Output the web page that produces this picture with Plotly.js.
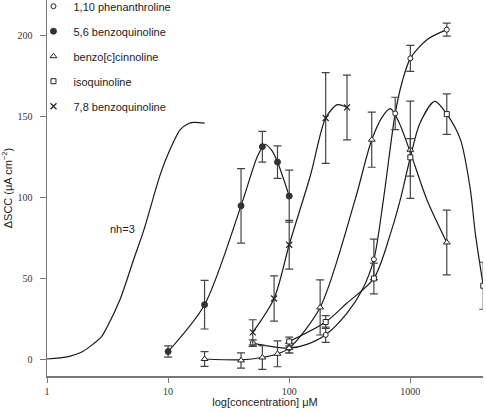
<!DOCTYPE html>
<html>
<head>
<meta charset="utf-8">
<script src="https://cdn.plot.ly/plotly-3.0.1.min.js"></script>
<style>html,body{margin:0;padding:0;background:#fff;}#chart{width:486px;height:411px;}</style>
</head>
<body>
<div id="chart"></div>
<script>
// ---- Data ----
var seriesNames = ["1,10 phenanthroline", "5,6 benzoquinoline", "benzo[c]cinnoline", "isoquinoline", "7,8 benzoquinoline"];

// 1,10 phenanthroline (open circles)
var phenX = [50, 100, 200, 500, 750, 1000, 2000];
var phenY = [10.3, 7.2, 15.4, 62, 152, 186, 203.7];
var phenErr = [2, 3, 4.7, 12.5, 10, 8, 4];
var phenCurveX = [50, 70, 100, 140, 200, 300, 400, 500, 600, 750, 860, 1000, 1370, 2000];
var phenCurveY = [10.3, 8.3, 7.2, 9.5, 15.4, 28.8, 43, 62, 99, 152, 172, 186, 197.5, 203.7];

// 5,6 benzoquinoline (filled circles)
var b56X = [10, 20, 40, 60, 80, 100];
var b56Y = [5.1, 34, 95, 131.5, 122, 101];
var b56Err = [3.5, 15, 23, 9.5, 10, 16];
var b56CurveX = [10, 20, 40, 55, 63, 72, 80, 100];
var b56CurveY = [5.1, 34, 95, 126, 133, 129, 122, 101];

// benzo[c]cinnoline (open triangles)
var cinX = [20, 40, 60, 80, 100, 180, 480, 1000, 2000];
var cinY = [0.5, -0.4, 1.4, 3.7, 7.2, 32.3, 135.8, 129.6, 72.4];
var cinErr = [4.5, 4.7, 7.3, 8, 3, 17, 17, 30, 20];
var cinCurveX = [20, 40, 60, 80, 100, 180, 350, 480, 600, 684, 800, 1000, 1370, 2000];
var cinCurveY = [0.5, 0, 1.4, 3.7, 7.2, 32.3, 98.8, 135.8, 151, 155, 147, 128, 98.8, 72.4];

// isoquinoline (open squares)
var isoX = [100, 200, 500, 1000, 2000, 4000];
var isoY = [11.3, 23.3, 50.2, 124.9, 151.6, 45.7];
var isoErr = [2.7, 4, 9.5, 11.6, 12.5, 14.5];
var isoCurveX = [100, 200, 300, 500, 700, 826, 1000, 1200, 1590, 2000, 2590, 3130, 3440, 4000];
var isoCurveY = [11.3, 23.3, 35, 50.2, 80, 98.8, 124.9, 146, 159.4, 151.6, 136, 105, 78, 45.7];

// 7,8 benzoquinoline (crosses)
var b78X = [50, 75, 100, 200, 300];
var b78Y = [16.9, 37.8, 71, 149.2, 155.7];
var b78Err = [7.8, 14, 15, 28, 20];
var b78CurveX = [50, 75, 100, 150, 200, 250, 300];
var b78CurveY = [16.9, 37.8, 71, 114, 149.2, 157.4, 155.7];

// Hill curve nh=3 (no markers)
var nhCurveX = [1, 1.5, 1.9, 2.3, 2.8, 3.1, 4, 5.2, 6.3, 8.5, 9.8, 12.6, 14.5, 16.2, 20];
var nhCurveY = [0.5, 2, 4.5, 8.6, 14, 19.5, 37, 62, 80, 113, 125.5, 142, 145.5, 146.5, 146];
var nhLabel = "nh=3";

var xTickVals = [1, 10, 100, 1000];
var xTickText = ["1", "10", "100", "1000"];
var yTickVals = [0, 50, 100, 150, 200];
var yTickText = ["0", "50", "100", "150", "200"];

// ---- Styling ----
var lineStyle = {color: "#1a1a1a", width: 1.2, shape: "spline", smoothing: 0.8};
function curve(x, y) {
  return {x: x, y: y, type: "scatter", mode: "lines", line: lineStyle, showlegend: false, hoverinfo: "skip"};
}
function pts(name, x, y, err, marker, gi) {
  return {
    x: x, y: y, name: name, type: "scatter", mode: "markers",
    legendgroup: "g" + gi,
    marker: marker,
    error_y: {type: "data", array: err, visible: true, color: "#444", thickness: 1.2, width: 4}
  };
}
var openLine = {color: "#222", width: 1};

var traces = [
  curve(nhCurveX, nhCurveY),
  curve(phenCurveX, phenCurveY),
  curve(b56CurveX, b56CurveY),
  curve(cinCurveX, cinCurveY),
  curve(isoCurveX, isoCurveY),
  curve(b78CurveX, b78CurveY),
  pts(seriesNames[0], phenX, phenY, phenErr, {symbol: "circle", size: 5, color: "#fff", line: openLine}, 0),
  pts(seriesNames[1], b56X, b56Y, b56Err, {symbol: "circle", size: 6, color: "#333", line: {color: "#333", width: 1}}, 1),
  pts(seriesNames[2], cinX, cinY, cinErr, {symbol: "triangle-up", size: 6, color: "#fff", line: openLine}, 2),
  pts(seriesNames[3], isoX, isoY, isoErr, {symbol: "square", size: 5, color: "#fff", line: openLine}, 3),
  pts(seriesNames[4], b78X, b78Y, b78Err, {symbol: "x-thin-open", size: 6, color: "#222", line: {color: "#222", width: 1.2}}, 4)
];

var layout = {
  width: 486, height: 411,
  margin: {l: 47, r: 3, t: 0, b: 35, autoexpand: false},
  paper_bgcolor: "#fff", plot_bgcolor: "#fff",
  font: {family: "Liberation Sans, Arial, sans-serif", size: 11, color: "#222"},
  xaxis: {
    type: "log", range: [0, 3.6],
    tickvals: xTickVals, ticktext: xTickText,
    showgrid: false, zeroline: false,
    showline: true, linecolor: "#777", linewidth: 1.5,
    ticks: "outside", ticklen: 5, tickcolor: "#777", tickwidth: 1,
    tickfont: {family: "Liberation Serif, Times New Roman, serif", size: 10, color: "#333"},
    title: {text: "log[concentration] μM", font: {size: 11, color: "#222"}, standoff: 3}
  },
  yaxis: {
    range: [-10, 222],
    tickvals: yTickVals, ticktext: yTickText,
    showgrid: false, zeroline: false,
    showline: true, linecolor: "#777", linewidth: 1.5,
    ticks: "outside", ticklen: 6, tickcolor: "#777", tickwidth: 1,
    ticklabelstandoff: 5,
    tickfont: {family: "Liberation Serif, Times New Roman, serif", size: 10, color: "#333"},
    title: {text: "ΔSCC (μA cm<sup>−2</sup>)", font: {size: 11, color: "#222"}, standoff: 8}
  },
  legend: {
    x: -0.031, xanchor: "left", y: 1.022, yanchor: "top",
    bgcolor: "rgba(0,0,0,0)", borderwidth: 0,
    traceorder: "grouped", tracegroupgap: 6,
    font: {size: 11, color: "#222"}
  },
  annotations: [
    {x: Math.log10(4.2), y: 81, xref: "x", yref: "y", text: nhLabel, showarrow: false,
     font: {size: 11, color: "#222"}}
  ]
};

Plotly.newPlot("chart", traces, layout, {displayModeBar: false, staticPlot: true});
</script>
</body>
</html>
